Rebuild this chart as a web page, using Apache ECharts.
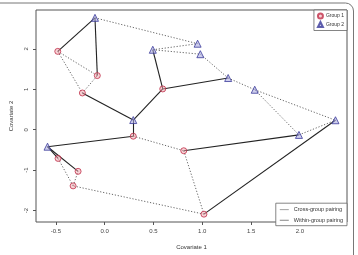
<!DOCTYPE html>
<html>
<head>
<meta charset="utf-8">
<script src="https://cdn.jsdelivr.net/npm/echarts@6/dist/echarts.min.js"></script>
<style>html,body{margin:0;padding:0;background:#fff;}#c{width:358px;height:255px;}</style>
</head>
<body>
<div id="c"></div>
<script>
const group1X = [-0.48, -0.075, -0.228, 0.595, 0.293, -0.477, -0.272, -0.323, 0.81, 1.017];
const group1Y = [1.94, 1.34, 0.91, 1.01, -0.16, -0.71, -1.03, -1.39, -0.52, -2.09];
const group2X = [-0.099, 0.493, 0.952, 0.98, 1.265, 1.537, 2.364, 1.99, 0.293, -0.585];
const group2Y = [2.77, 1.98, 2.13, 1.87, 1.28, 0.99, 0.235, -0.128, 0.24, -0.42];
// [group2 index, group1 index]
const crossPairs = [[0,0],[0,1],[1,3],[4,3],[8,3],[8,2],[8,4],[9,4],[9,6],[9,5],[7,8],[6,9]];
const within1Pairs = [[0,1],[0,2],[2,1],[4,8],[8,9],[9,7],[7,5],[7,6]];
const within2Pairs = [[0,2],[1,2],[1,3],[3,4],[4,5],[5,6],[5,7],[7,6]];
const xTicks = [-0.5, 0.0, 0.5, 1.0, 1.5, 2.0];
const yTicks = [-2, -1, 0, 1, 2];

const g1 = group1X.map((x, i) => [x, group1Y[i]]);
const g2 = group2X.map((x, i) => [x, group2Y[i]]);
const crossSeg = crossPairs.map(p => ({coords: [g2[p[0]], g1[p[1]]]}));
const withinSeg = within1Pairs.map(p => ({coords: [g1[p[0]], g1[p[1]]]}))
  .concat(within2Pairs.map(p => ({coords: [g2[p[0]], g2[p[1]]]})));

const chart = echarts.init(document.getElementById('c'), null, {renderer: 'canvas'});
const font = 'Liberation Sans, Arial, sans-serif';
chart.setOption({
  animation: false,
  backgroundColor: '#fff',
  textStyle: {fontFamily: font},
  graphic: [{
    type: 'rect', shape: {x: -12, y: 3, width: 365.5, height: 300, r: 8},
    style: {fill: 'none', stroke: '#777', lineWidth: 1}, z: 0
  }],
  grid: {left: 36, right: 11, top: 10, bottom: 29.3, show: true, borderColor: '#555', borderWidth: 1, backgroundColor: 'transparent'},
  xAxis: {
    type: 'value', min: -0.703, max: 2.482,
    splitLine: {show: false}, axisLine: {show: false, onZero: false},
    axisTick: {show: true, inside: false, length: 3, lineStyle: {color: '#555'}, customValues: xTicks},
    axisLabel: {customValues: xTicks, fontSize: 6, color: '#444', margin: 6, formatter: v => v.toFixed(1)},
    name: 'Covariate 1', nameLocation: 'middle', nameGap: 22, nameTextStyle: {fontSize: 6, color: '#333'}
  },
  yAxis: {
    type: 'value', min: -2.284, max: 2.964,
    splitLine: {show: false}, axisLine: {show: false, onZero: false},
    axisTick: {show: true, inside: false, length: 3, lineStyle: {color: '#555'}, customValues: yTicks},
    axisLabel: {customValues: yTicks, fontSize: 6, color: '#444', margin: 7, rotate: 90},
    name: 'Covariate 2', nameLocation: 'middle', nameGap: 22, nameTextStyle: {fontSize: 6, color: '#333'}
  },
  legend: [{
    data: ['Group 1', 'Group 2'], orient: 'vertical', right: 11, top: 10,
    itemWidth: 5, itemHeight: 5, itemGap: 1.5, padding: [2.5, 3, 2.5, 3],
    borderColor: '#666', borderWidth: 0.8, borderRadius: 0, backgroundColor: '#fff',
    textStyle: {fontSize: 5, color: '#333', padding: [0, 0, 0, -2]}
  }, {
    data: [
      {name: 'Cross-group pairing', icon: 'rect', itemStyle: {color: '#888', borderWidth: 0}},
      {name: 'Within-group pairing', icon: 'rect', itemStyle: {color: '#666', borderWidth: 0}}
    ],
    orient: 'vertical', right: 11, bottom: 29.3,
    itemWidth: 9, itemHeight: 0.8, itemGap: 4.5, padding: [3.5, 4, 2.5, 4],
    borderColor: '#666', borderWidth: 0.8, backgroundColor: '#fff',
    textStyle: {fontSize: 5.5, color: '#333'}
  }],
  series: [{
    name: 'Within-group pairing', type: 'lines', coordinateSystem: 'cartesian2d',
    data: withinSeg, silent: true, z: 2,
    lineStyle: {color: '#666', width: 1, type: [1.2, 1.8], opacity: 1}
  }, {
    name: 'Cross-group pairing', type: 'lines', coordinateSystem: 'cartesian2d',
    data: crossSeg, silent: true, z: 3,
    lineStyle: {color: '#222', width: 1.1, type: 'solid', opacity: 1}
  }, {
    name: 'Group 1', type: 'scatter', data: g1, symbol: 'circle', symbolSize: 6, z: 5,
    itemStyle: {color: 'rgba(240,160,170,0.6)', borderColor: '#c0304a', borderWidth: 1}
  }, {
    name: 'Group 2', type: 'scatter', data: g2, symbol: 'triangle', symbolSize: 7, z: 5,
    itemStyle: {color: 'rgba(170,170,225,0.7)', borderColor: '#3a3a9a', borderWidth: 1}
  }]
});
</script>
</body>
</html>
